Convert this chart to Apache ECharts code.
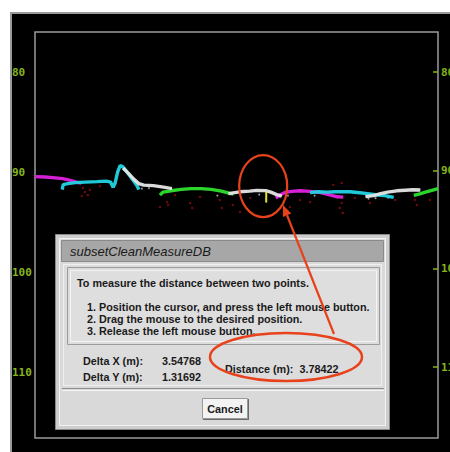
<!DOCTYPE html>
<html><head><meta charset="utf-8">
<script src="https://cdn.jsdelivr.net/npm/echarts@6/dist/echarts.min.js"></script>
<style>
html,body{margin:0;padding:0;background:#fff;overflow:hidden;}
#bg{position:absolute;left:10px;top:12px;width:440px;height:440px;background:#000;border-top:2px solid #9a9a9a;border-left:2px solid #9a9a9a;box-sizing:border-box;}
#c{position:absolute;left:0;top:0;width:450px;height:452px;}
</style>
</head><body><div id="bg"></div><div id="c"></div>
<script>
// ---- data ----
const yTicks = [80, 90, 100, 110];
const magenta1 = [[0,90.40],[2,90.44],[4,90.52],[5.5,90.6],[7,90.78],[8.2,90.95],[9.2,91.05]];
const cyan1 = [[5.4,91.7],[5.6,91.2],[6.5,91.1],[8,91.0],[10,90.95],[12.3,90.9],[14.2,90.85],[15.0,90.95],[15.5,91.45],[15.9,91.05],[16.4,89.95],[16.9,89.3],[17.4,89.4],[18.3,89.95],[19.4,90.7],[20.3,91.35],[20.6,91.7]];
const white1 = [[17.5,89.55],[18.6,90.1],[19.6,90.65],[20.6,91.1],[21.6,91.25],[23.5,91.3],[25.5,91.45],[27.2,91.6]];
const green1 = [[24.8,92.25],[25.4,91.95],[27,91.82],[29,91.68],[31,91.6],[33,91.6],[35,91.68],[37,91.85],[38.5,92.05],[39.4,92.15]];
const white2 = [[38.4,92.1],[40.6,91.92],[42.6,91.85],[44,91.78],[45.8,91.8],[46.8,91.95],[48,92.2],[49,92.35]];
const yellow1 = [[45.9,91.9],[45.9,93.0]];
const magenta2 = [[47.8,92.55],[48.6,92.25],[49.6,91.98],[51,91.88],[52.6,91.82],[54.5,91.88],[56.5,91.98],[58.5,92.22],[60,92.42],[61.2,92.45]];
const cyan2 = [[54.6,92.0],[56.2,91.92],[58,91.95],[59.6,91.92],[62.5,91.92],[64.5,92.02],[66,92.1],[67.6,92.22],[69.4,92.3],[71.2,92.48]];
const white3 = [[65.6,92.4],[67.2,92.3],[68.6,92.1],[70,91.95],[71.8,91.82],[73.5,91.76],[75,91.72],[76.5,91.74]];
const green2 = [[75.2,92.28],[76.4,92.12],[77.5,91.96],[78.6,91.8],[80,91.6]];
const redDots = [[9.5,91.54],[9.9,91.94],[10.5,92.24],[9.3,92.34],[10.9,91.74],[12.9,91.34],[24.8,93.44],[26.2,92.94],[26.4,93.24],[27.8,92.24],[30.8,93.04],[31.2,93.54],[32.75,92.44],[36.7,92.74],[37.1,93.54],[39.3,93.24],[40.7,93.94],[42.7,92.54],[50.6,93.44],[52.6,92.74],[54.6,92.94],[59.2,91.24],[60.5,93.54],[60.9,93.04],[61.1,94.04],[60.9,91.04],[63.5,92.54],[66.5,93.04],[71.5,92.74],[75.4,92.74],[75.8,93.24],[78.4,92.74]];
const grayDots = [[16.3,90.0],[21.2,91.6],[22.6,91.55],[36.2,92.3],[44.5,92.2],[50.2,92.3],[66.2,92.6],[67.6,92.55],[70.1,92.5],[55.5,92.3]];
const circledPoint = [45.3, 91.35];
const dialogTitle = 'subsetCleanMeasureDB';
const dialogIntro = 'To measure the distance between two points.';
const dialogSteps = ['1. Position the cursor, and press the left mouse button.','2. Drag the mouse to the desired position.','3. Release the left mouse button.'];
const deltaXLabel = 'Delta X (m):', deltaXValue = '3.54768';
const deltaYLabel = 'Delta Y (m):', deltaYValue = '1.31692';
const distanceText = 'Distance (m):  3.78422';
const cancelText = 'Cancel';

// ---- chart ----
const chart = echarts.init(document.getElementById('c'), null, {renderer:'svg', width:450, height:452});
const green = '#86b41c';
function lineS(data, color, z){
  return {type:'line', data, showSymbol:false, animation:false, z:z||2,
    lineStyle:{color, width:3.4, opacity:0.95}, itemStyle:{color}};
}
const lblCommon = {customValues:yTicks, color:green, fontFamily:'DejaVu Sans Mono', fontSize:11, fontWeight:'bold', align:'left'};
chart.setOption({
  animation:false,
  grid:{left:35, right:12, top:32, bottom:14, outerBoundsMode:'none', containLabel:false, show:true, borderColor:'#9a9a9a', borderWidth:1.5, backgroundColor:'transparent'},
  xAxis:{type:'value', min:0, max:80, show:false},
  yAxis:[
    {type:'value', inverse:true, min:75.9, max:116.6, position:'left',
      axisLine:{show:false}, axisTick:{show:false}, splitLine:{show:false},
      axisLabel:Object.assign({margin:23}, lblCommon)},
    {type:'value', inverse:true, min:75.93, max:117.2, position:'right',
      axisLine:{show:false}, splitLine:{show:false},
      axisTick:{show:true, inside:true, length:5, customValues:yTicks, lineStyle:{color:green, width:1.5}},
      axisLabel:Object.assign({margin:3}, lblCommon)}
  ],
  series:[
    {type:'scatter', data:redDots, symbolSize:2.5, itemStyle:{color:'#8a0c0c'}, z:1},
    {type:'scatter', data:grayDots, symbolSize:2, itemStyle:{color:'#b8b8b8'}, z:1},
    lineS(magenta1,'#e022e0'),
    lineS(cyan1,'#22d4e4',3),
    lineS(white1,'#e6e6e6',4),
    lineS(green1,'#2ee02e',3),
    lineS(white2,'#e6e6e6',4),
    lineS(magenta2,'#e022e0',3),
    lineS(cyan2,'#22d4e4',4),
    lineS(white3,'#e6e6e6',5),
    lineS(green2,'#2ee02e',5),
    {type:'line', data:yellow1, showSymbol:false, z:6, lineStyle:{color:'#e8e030', width:2}}
  ]
});

const cp = chart.convertToPixel({xAxisIndex:0, yAxisIndex:0}, circledPoint);
const red = '#e8421c';
const bold = 'bold 10.8px "Liberation Sans"';
function txt(x,y,text,font,align){
  return {type:'text', x, y, z:110, style:{text, font, fill:'#1a1a1a', textAlign:align||'left', textVerticalAlign:'middle'}};
}
function rect(x,y,w,h,fill,stroke,lw,z){
  return {type:'rect', z:z||100, shape:{x,y,width:w,height:h}, style:{fill:fill||'none', stroke:stroke||null, lineWidth:lw||1}};
}
function hline(x1,x2,y,color,z){
  return {type:'line', z:z||105, shape:{x1,y1:y,x2,y2:y}, style:{stroke:color, lineWidth:1}};
}
const tip = [283, 205], tail = [334, 334];
const dx = tip[0]-tail[0], dy = tip[1]-tail[1], L = Math.hypot(dx,dy), ux = dx/L, uy = dy/L;
const bx = tip[0]-11*ux, by = tip[1]-11*uy;
const els = [
  rect(55.5,234.5,334,195,'#cdcdcd','#8a8a8a',1,100),
  rect(59.5,238.5,326,187,'#d9d9d9','#f2f2f2',1,101),
  rect(61.5,240.5,322,21,'#a7a7a7','#8a8a8a',1,102),
  rect(63.5,264.5,318,121,'#dcdcdc','#f0f0f0',1,102),
  rect(67.5,267.5,312,77,'none','#9c9c9c',1,103),
  rect(70.5,270.5,306,71,'#dedede','#f4f4f4',1,103),
  hline(62,384,388.5,'#8e8e8e'),
  hline(62,384,390.5,'#f4f4f4'),
  rect(202.5,398.5,45,20,'#f3f3f3','#9a9a9a',1,104),
  hline(203,248,419.5,'#6a6a6a'),
  {type:'line', z:105, shape:{x1:248.5,y1:399,x2:248.5,y2:420}, style:{stroke:'#6a6a6a', lineWidth:1}},
  txt(70,251,dialogTitle,'italic 13px "Liberation Sans"'),
  txt(77,283,dialogIntro,bold),
  txt(87,307,dialogSteps[0],bold),
  txt(87,319,dialogSteps[1],bold),
  txt(87,331,dialogSteps[2],bold),
  txt(83,361,deltaXLabel,bold),
  txt(162,361,deltaXValue,bold),
  txt(83,377,deltaYLabel,bold),
  txt(162,377,deltaYValue,bold),
  txt(225,369,distanceText,bold),
  txt(225,408.5,cancelText,bold,'center'),
  {type:'ellipse', z:120, shape:{cx:cp[0], cy:cp[1], rx:24, ry:31}, style:{fill:'none', stroke:red, lineWidth:2.2}},
  {type:'ellipse', z:120, shape:{cx:286, cy:357, rx:76, ry:24}, style:{fill:'none', stroke:red, lineWidth:2.5}},
  {type:'line', z:120, shape:{x1:tail[0], y1:tail[1], x2:bx, y2:by}, style:{stroke:red, lineWidth:2.2}},
  {type:'polygon', z:120, shape:{points:[tip,[bx-4.5*uy, by+4.5*ux],[bx+4.5*uy, by-4.5*ux]]}, style:{fill:red}}
];
chart.setOption({graphic:{elements:els}});
</script>
</body></html>
